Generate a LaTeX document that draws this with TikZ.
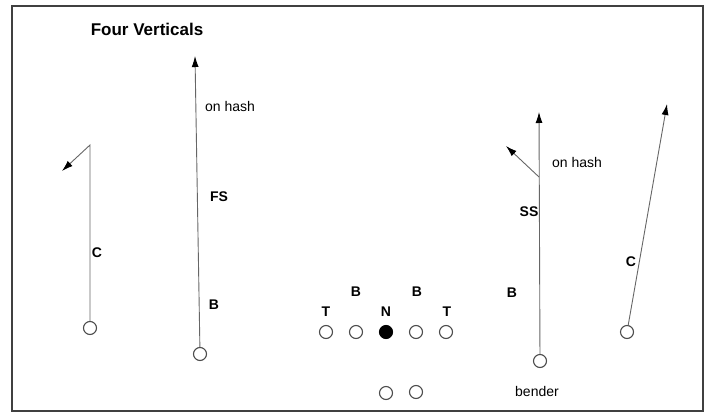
\documentclass[tikz,border=0pt]{standalone}
\usepackage{fontspec}
\setmainfont{Liberation Sans}
\usepackage{tikz}
\usetikzlibrary{arrows.meta}

\begin{document}
\begin{tikzpicture}[x=1pt,y=-1pt]
\tikzstyle{player}=[draw=black!70, line width=1.1pt, circle, minimum size=13pt, inner sep=0pt, fill=white]
\tikzstyle{snapper}=[player, draw=black, fill=black]
\tikzstyle{route}=[draw=black!60, line width=0.9pt, -{Latex[length=11pt,width=7pt,black]}]
\tikzstyle{tag}=[font=\bfseries\fontsize{14}{14}\selectfont, inner sep=0pt]
\tikzstyle{note}=[font=\fontsize{14}{14}\selectfont, inner sep=0pt]
\useasboundingbox (0,0) rectangle (709,414);
\draw [black!75, line width=1.8pt] (12,6) rectangle (703,411);
\node (title) [font=\bfseries\fontsize{17}{17}\selectfont] at (147,29) {Four Verticals};
\node (lc) [player] at (90,328) {};
\node (fs) [player] at (200,354) {};
\node (lt) [player] at (326,332) {};
\node (lg) [player] at (356,332) {};
\node (n) [snapper] at (386,332) {};
\node (rg) [player] at (416,332) {};
\node (rt) [player] at (446,332) {};
\node (lb) [player] at (386,393) {};
\node (rb) [player] at (416,392) {};
\node (ss) [player] at (540,361) {};
\node (rc) [player] at (627,332) {};
\coordinate (lc break) at (90,145);
\coordinate (lc end) at (62,171);
\coordinate (fs end) at (195,56);
\coordinate (ss end) at (539,112);
\coordinate (ss break) at (539,177);
\coordinate (ss out) at (506,146);
\coordinate (rc end) at (667,104);
\draw [route] (lc) -- (lc break) -- (lc end);
\draw [route] (fs) -- (fs end);
\draw [route] (ss) -- (ss end);
\draw [route] (ss break) -- (ss out);
\draw [route] (rc) -- (rc end);
\node [tag] at (97,253) {C};
\node [tag] at (219,197) {FS};
\node [tag] at (214,305) {B};
\node [note] at (230,106) {on hash};
\node [tag] at (326,312) {T};
\node [tag] at (356,292) {B};
\node [tag] at (386,312) {N};
\node [tag] at (417,292) {B};
\node [tag] at (447,312) {T};
\node [tag] at (512,293) {B};
\node [tag] at (529,212) {SS};
\node [note] at (577,162) {on hash};
\node [tag] at (631,262) {C};
\node [note] at (537,391) {bender};
\end{tikzpicture}
\end{document}
